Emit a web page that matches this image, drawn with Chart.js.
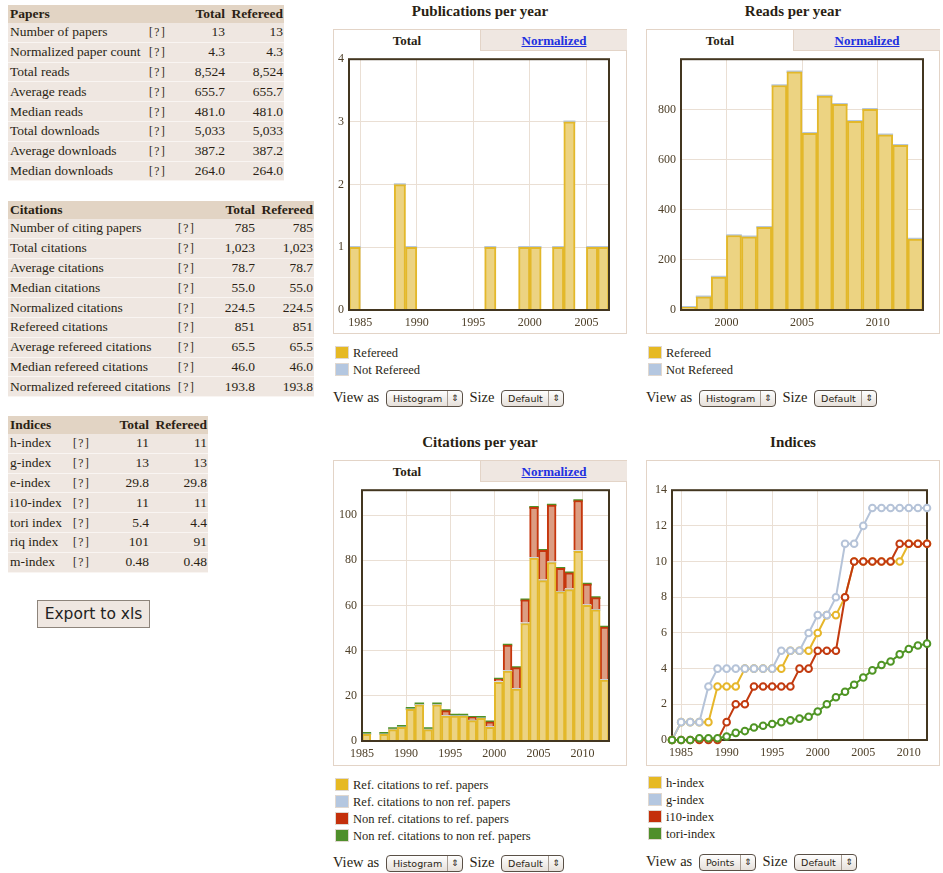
<!DOCTYPE html>
<html>
<head>
<meta charset="utf-8">
<script src="https://cdn.jsdelivr.net/npm/chart.js@4.4.1/dist/chart.umd.min.js"></script>
<style>
body { margin: 0; background: #fff; color: #2a1f14; font-family: "Liberation Serif", "Times New Roman", serif; }
.abs { position: absolute; }
table.m { border-collapse: collapse; table-layout: fixed; font-size: 13.5px; }
table.m td, table.m th { padding: 0; white-space: nowrap; overflow: hidden; }
table.m tr.h th { background: #e2d4c4; height: 18px; font-weight: bold; text-align: right; }
table.m tr.h th:first-child { text-align: left; padding-left: 2px; }
table.m tr.r td { background: #efe7e1; height: 18.8px; border-bottom: 1px solid #f9f5f2; text-align: right; }
table.m tr.r td:first-child { text-align: left; padding-left: 2px; }
table.m td.q { text-align: left !important; font-size: 11.5px; letter-spacing: 1.5px; padding-left: 2px; }
table.m .p1 { padding-right: 2px; }
table.m .p2 { padding-right: 1px; }
.btn { position: absolute; left: 37px; top: 600px; width: 113px; height: 28px; box-sizing: border-box;
       border: 1px solid #8d847b; background: #efe7e1; font: 15.5px "DejaVu Sans", sans-serif;
       text-align: center; line-height: 26px; color: #222; }
.title { position: absolute; width: 294px; text-align: center; font-weight: bold; font-size: 15px; }
.box { position: absolute; box-sizing: border-box; border: 1px solid #e3d4c7; background: #fff; }
.tab { position: absolute; top: 0; height: 21px; width: 146px; text-align: center; font-weight: bold; font-size: 13px; line-height: 21px; box-sizing: border-box; }
.tab.off { left: 146px; width: 147px; background: #efe7e1; border-left: 1px solid #e3d4c7; border-bottom: 1px solid #e3d4c7; }
.tab.off span { color: #2230e0; text-decoration: underline; }
canvas { position: absolute; }
.leg { position: absolute; font-size: 12.5px; }
.leg div { height: 17px; line-height: 17px; white-space: nowrap; }
.leg b { display: inline-block; width: 12px; height: 11px; vertical-align: -2px; margin-right: 4px;
         border: 1px solid #e0d8d0; }
.view { position: absolute; font-size: 14.5px; white-space: nowrap; line-height: 18px; }
.sel { display: inline-block; position: relative; box-sizing: border-box; height: 17px; vertical-align: 0px;
       border: 1px solid #5a5046; border-radius: 4px; background: linear-gradient(#fefefe, #e6e0da);
       font: 9.5px "DejaVu Sans", sans-serif; line-height: 15px; padding-left: 6px; text-align: left; margin: 0 3px; }
.sel i { position: absolute; right: 0; top: 0; width: 14px; height: 15px; border-left: 1px solid #a79c92;
         font-style: normal; text-align: center; font-size: 9px; line-height: 15px; }
</style>
</head>
<body>

<!-- ─── Metrics tables ─────────────────────────────────────────────────── -->
<div class="abs" id="t_papers"    style="left:8px;top:5px"></div>
<div class="abs" id="t_citations" style="left:8px;top:201px"></div>
<div class="abs" id="t_indices"   style="left:8px;top:416px"></div>
<div class="btn">Export to xls</div>

<!-- ─── Publications per year ──────────────────────────────────────────── -->
<div class="title" style="left:333px;top:3px">Publications per year</div>
<div class="box" style="left:333px;top:29px;width:294px;height:305px">
  <div class="tab" style="left:0">Total</div><div class="tab off"><span>Normalized</span></div>
</div>
<canvas id="c_pubs" width="294" height="287" style="left:333px;top:47px"></canvas>
<div class="leg" style="left:335px;top:345px">
  <div><b style="background:#e6b923"></b>Refereed</div>
  <div><b style="background:#b4c7e0"></b>Not Refereed</div>
</div>
<div class="view" style="left:333px;top:388px">View as <span class="sel" style="width:77px">Histogram<i>⇕</i></span> Size <span class="sel" style="width:63px">Default<i>⇕</i></span></div>

<!-- ─── Reads per year ─────────────────────────────────────────────────── -->
<div class="title" style="left:646px;top:3px">Reads per year</div>
<div class="box" style="left:646px;top:29px;width:294px;height:305px">
  <div class="tab" style="left:0">Total</div><div class="tab off"><span>Normalized</span></div>
</div>
<canvas id="c_reads" width="294" height="287" style="left:646px;top:47px"></canvas>
<div class="leg" style="left:648px;top:345px">
  <div><b style="background:#e6b923"></b>Refereed</div>
  <div><b style="background:#b4c7e0"></b>Not Refereed</div>
</div>
<div class="view" style="left:646px;top:388px">View as <span class="sel" style="width:77px">Histogram<i>⇕</i></span> Size <span class="sel" style="width:63px">Default<i>⇕</i></span></div>

<!-- ─── Citations per year ─────────────────────────────────────────────── -->
<div class="title" style="left:333px;top:434px">Citations per year</div>
<div class="box" style="left:333px;top:460px;width:294px;height:306px">
  <div class="tab" style="left:0">Total</div><div class="tab off"><span>Normalized</span></div>
</div>
<canvas id="c_cites" width="294" height="288" style="left:333px;top:478px"></canvas>
<div class="leg" style="left:335px;top:777px">
  <div><b style="background:#e6b923"></b>Ref. citations to ref. papers</div>
  <div><b style="background:#b4c7e0"></b>Ref. citations to non ref. papers</div>
  <div><b style="background:#c4300b"></b>Non ref. citations to ref. papers</div>
  <div><b style="background:#4f8f2b"></b>Non ref. citations to non ref. papers</div>
</div>
<div class="view" style="left:333px;top:853px">View as <span class="sel" style="width:77px">Histogram<i>⇕</i></span> Size <span class="sel" style="width:63px">Default<i>⇕</i></span></div>

<!-- ─── Indices ────────────────────────────────────────────────────────── -->
<div class="title" style="left:646px;top:434px">Indices</div>
<div class="box" style="left:646px;top:460px;width:294px;height:306px"></div>
<canvas id="c_indices" width="294" height="288" style="left:646px;top:478px"></canvas>
<div class="leg" style="left:648px;top:775px">
  <div><b style="background:#e6b923"></b>h-index</div>
  <div><b style="background:#b4c7e0"></b>g-index</div>
  <div><b style="background:#c4300b"></b>i10-index</div>
  <div><b style="background:#4f8f2b"></b>tori-index</div>
</div>
<div class="view" style="left:646px;top:852px">View as <span class="sel" style="width:57px">Points<i>⇕</i></span> Size <span class="sel" style="width:63px">Default<i>⇕</i></span></div>

<script>
// ─── Chart data ──────────────────────────────────────────────────────────────
const PUB_YEARS        = [1984, 1988, 1989, 1996, 1999, 2000, 2002, 2003, 2005, 2006];
const PUB_REFEREED     = [1, 2, 1, 1, 1, 1, 1, 3, 1, 1];
const PUB_NOT_REFEREED = [0, 0, 0, 0, 0, 0, 0, 0, 0, 0];

const READ_YEARS        = [1997, 1998, 1999, 2000, 2001, 2002, 2003, 2004,
                           2005, 2006, 2007, 2008, 2009, 2010, 2011, 2012];
const READ_REFEREED     = [11, 53, 131, 297, 292, 330, 895, 950,
                           704, 853, 820, 752, 800, 698, 657, 283];
const READ_NOT_REFEREED = [0, 0, 0, 0, 0, 0, 0, 0, 0, 0, 0, 0, 0, 0, 0, 0];

const CIT_YEARS = [1985, 1987, 1988, 1989, 1990, 1991, 1992, 1993, 1994,
                   1995, 1996, 1997, 1998, 1999, 2000, 2001, 2002, 2003,
                   2004, 2005, 2006, 2007, 2008, 2009, 2010, 2011, 2012];
const CIT_REF_TO_REF       = [3, 3, 5, 6, 14, 16, 5, 16, 11, 11, 11, 9, 10, 6,
                              26, 31, 23, 52, 81, 71, 79, 66, 67, 84, 60, 58, 27];
const CIT_REF_TO_NONREF    = [0, 0, 0, 0, 0, 0, 0, 0, 0, 0, 0, 0, 0, 0,
                              0, 0, 0, 0, 0, 0, 0, 0, 0, 0, 0, 0, 0];
const CIT_NONREF_TO_REF    = [0, 0, 0, 0, 0, 0, 0, 0, 2, 0, 0, 1, 0, 2,
                              1, 11, 9, 10, 22, 13, 25, 10, 7, 22, 9, 5, 23];
const CIT_NONREF_TO_NONREF = [0, 0, 0, 0, 0, 0, 0, 0, 0, 0, 0, 0, 0, 0,
                              0, 0, 0, 0, 0, 0, 0, 0, 0, 0, 0, 0, 0];

const IDX_YEARS = [1984, 1985, 1986, 1987, 1988, 1989, 1990, 1991, 1992, 1993,
                   1994, 1995, 1996, 1997, 1998, 1999, 2000, 2001, 2002, 2003,
                   2004, 2005, 2006, 2007, 2008, 2009, 2010, 2011, 2012];
const H_INDEX   = [0, 1, 1, 1, 1, 3, 3, 3, 4, 4, 4, 4, 4, 5, 5, 5, 6, 7, 7, 8,
                   10, 10, 10, 10, 10, 10, 11, 11, 11];
const G_INDEX   = [0, 1, 1, 1, 3, 4, 4, 4, 4, 4, 4, 4, 5, 5, 5, 6, 7, 7, 8, 11,
                   11, 12, 13, 13, 13, 13, 13, 13, 13];
const I10_INDEX = [0, 0, 0, 0, 0, 0, 1, 2, 2, 3, 3, 3, 3, 3, 4, 4, 5, 5, 5, 8,
                   10, 10, 10, 10, 10, 11, 11, 11, 11];
const TORI_INDEX = [0, 0, 0, 0.1, 0.1, 0.1, 0.2, 0.4, 0.5, 0.7, 0.8, 0.9, 1.0, 1.1,
                    1.2, 1.3, 1.6, 2.0, 2.4, 2.7, 3.1, 3.5, 3.9, 4.2, 4.4, 4.8,
                    5.1, 5.3, 5.4];

// ─── Table rows (label, total, refereed) ─────────────────────────────────────
const PAPER_ROWS = [
    ["Number of papers", "13", "13"], ["Normalized paper count", "4.3", "4.3"],
    ["Total reads", "8,524", "8,524"], ["Average reads", "655.7", "655.7"],
    ["Median reads", "481.0", "481.0"], ["Total downloads", "5,033", "5,033"],
    ["Average downloads", "387.2", "387.2"], ["Median downloads", "264.0", "264.0"],
];
const CITATION_ROWS = [
    ["Number of citing papers", "785", "785"], ["Total citations", "1,023", "1,023"],
    ["Average citations", "78.7", "78.7"], ["Median citations", "55.0", "55.0"],
    ["Normalized citations", "224.5", "224.5"], ["Refereed citations", "851", "851"],
    ["Average refereed citations", "65.5", "65.5"], ["Median refereed citations", "46.0", "46.0"],
    ["Normalized refereed citations", "193.8", "193.8"],
];
const INDEX_ROWS = [
    ["h-index", "11", "11"], ["g-index", "13", "13"], ["e-index", "29.8", "29.8"],
    ["i10-index", "11", "11"], ["tori index", "5.4", "4.4"], ["riq index", "101", "91"],
    ["m-index", "0.48", "0.48"],
];

function buildTable(el, title, rows, widths) {
    let html = `<table class="m"><colgroup>${widths.map(w => `<col style="width:${w}px">`).join("")}</colgroup>`;
    html += `<tr class="h"><th>${title}</th><th></th><th class="p1">Total</th><th class="p2">Refereed</th></tr>`;
    rows.forEach(r => {
        html += `<tr class="r"><td>${r[0]}</td><td class="q">[?]</td><td class="p1">${r[1]}</td><td class="p2">${r[2]}</td></tr>`;
    });
    document.getElementById(el).innerHTML = html + "</table>";
}
buildTable("t_papers",    "Papers",    PAPER_ROWS,    [139, 23, 57, 57]);
buildTable("t_citations", "Citations", CITATION_ROWS, [168, 24, 57, 57]);
buildTable("t_indices",   "Indices",   INDEX_ROWS,    [63, 24, 56, 57]);

// ─── Shared look ─────────────────────────────────────────────────────────────
const GRID  = "#eadfd4";
const FRAME = "#433620";
const TICK  = "#4f4029";
const TICK_FONT = { family: "Liberation Serif", size: 12 };

const YELLOW = { backgroundColor: "#ecd382", borderColor: "#e3b82a", borderWidth: 2 };
const BLUE   = { backgroundColor: "#b7c7dc", borderWidth: 0, minBarLength: 2 };
const RED    = { backgroundColor: "#dc9d82", borderColor: "#c6360d", borderWidth: 2 };
const GREEN  = { backgroundColor: "#4f9126", borderWidth: 0, minBarLength: 2 };

// dark frame round the plot area
const framePlugin = {
    id: "frame",
    afterDatasetsDraw(chart) {
        const { ctx, chartArea: a } = chart;
        ctx.save();
        ctx.strokeStyle = FRAME;
        ctx.lineWidth = 2;
        ctx.strokeRect(a.left, a.top, a.right - a.left, a.bottom - a.top);
        ctx.restore();
    },
};

function scales(g) {
    return {
        x: {
            type: "linear", min: g.xMin, max: g.xMax, offset: false, stacked: g.stacked,
            grid: { color: GRID, drawTicks: false, offset: false },
            border: { display: false },
            ticks: { stepSize: 5, includeBounds: false, autoSkip: false, maxRotation: 0,
                     padding: 6, color: TICK, font: TICK_FONT, callback: v => String(v) },
            afterFit: s => { s.height = g.xHeight; },
        },
        y: {
            min: 0, max: g.yMax, stacked: g.stacked,
            grid: { color: GRID, drawTicks: false },
            border: { display: false },
            ticks: { stepSize: g.yStep, includeBounds: false, padding: 5, color: TICK, font: TICK_FONT,
                     callback: v => (g.yHide && v >= g.yHide ? "" : String(v)) },
            afterFit: s => { s.width = g.yWidth; },
        },
    };
}

// bins span [year, year + 1), so each bar sits on its bin's midpoint
function binned(years, values) {
    return years.map((yr, i) => ({ x: yr + 0.5, y: values[i] }));
}

function barSet(label, years, values, style) {
    return { label, data: binned(years, values), barPercentage: 1, categoryPercentage: 1, ...style };
}

function histogram(id, datasets, g) {
    new Chart(document.getElementById(id), {
        type: "bar",
        data: { datasets },
        options: {
            responsive: false, animation: false,
            layout: { padding: { top: 2, right: g.right, left: 0, bottom: 0 } },
            plugins: { legend: { display: false }, tooltip: { enabled: false } },
            scales: scales(g),
        },
        plugins: [framePlugin],
    });
}

histogram("c_pubs", [
    barSet("Refereed",     PUB_YEARS, PUB_REFEREED,     YELLOW),
    barSet("Not Refereed", PUB_YEARS, PUB_NOT_REFEREED, BLUE),
], { xMin: 1984, xMax: 2007, yMax: 4, yStep: 1, yWidth: 16, xHeight: 24, right: 18, stacked: true });

histogram("c_reads", [
    barSet("Refereed",     READ_YEARS, READ_REFEREED,     YELLOW),
    barSet("Not Refereed", READ_YEARS, READ_NOT_REFEREED, BLUE),
], { xMin: 1997, xMax: 2013, yMax: 1000, yStep: 200, yHide: 1000, yWidth: 35, xHeight: 24, right: 17, stacked: true });

histogram("c_cites", [
    barSet("Ref. citations to ref. papers",         CIT_YEARS, CIT_REF_TO_REF,       YELLOW),
    barSet("Ref. citations to non ref. papers",     CIT_YEARS, CIT_REF_TO_NONREF,    { ...BLUE, minBarLength: 1 }),
    barSet("Non ref. citations to ref. papers",     CIT_YEARS, CIT_NONREF_TO_REF,    RED),
    barSet("Non ref. citations to non ref. papers", CIT_YEARS, CIT_NONREF_TO_NONREF, GREEN),
], { xMin: 1985, xMax: 2013, yMax: 111, yStep: 20, yWidth: 29, xHeight: 25, right: 18, stacked: true });

// ─── Indices (points) ────────────────────────────────────────────────────────
function lineSet(label, values, color, order) {
    return {
        label, order, clip: false,
        data: IDX_YEARS.map((yr, i) => ({ x: yr, y: values[i] })),
        borderColor: color, borderWidth: 2, tension: 0,
        pointRadius: 3.3, pointBorderWidth: 2, pointBackgroundColor: "#fff", pointBorderColor: color,
    };
}

new Chart(document.getElementById("c_indices"), {
    type: "line",
    data: {
        datasets: [
            lineSet("h-index",    H_INDEX,    "#e6b62a", 4),
            lineSet("g-index",    G_INDEX,    "#b5c3d8", 3),
            lineSet("i10-index",  I10_INDEX,  "#c23a0f", 2),
            lineSet("tori-index", TORI_INDEX, "#4f9524", 1),
        ],
    },
    options: {
        responsive: false, animation: false,
        layout: { padding: { top: 2, right: 13, left: 0, bottom: 0 } },
        plugins: { legend: { display: false }, tooltip: { enabled: false } },
        scales: scales({ xMin: 1984, xMax: 2012, yMax: 14, yStep: 2, yWidth: 26, xHeight: 26, stacked: false }),
    },
    plugins: [{ id: "frameUnder", beforeDatasetsDraw: framePlugin.afterDatasetsDraw }],
});
</script>
</body>
</html>
